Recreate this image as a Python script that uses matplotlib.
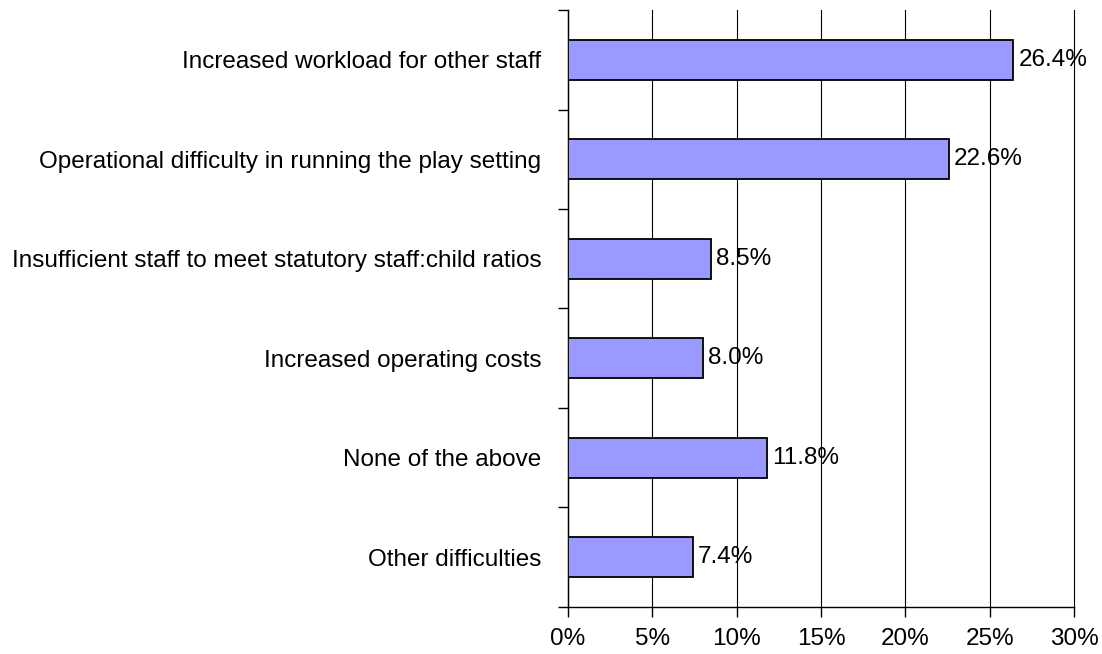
import numpy as np
import matplotlib.pyplot as plt
from matplotlib.ticker import FixedLocator

plt.rcParams['font.family'] = ['Liberation Sans', 'DejaVu Sans']

categories = ['Increased workload for other staff',
              'Operational difficulty in running the play setting',
              'Insufficient staff to meet statutory staff:child ratios',
              'Increased operating costs',
              'None of the above',
              'Other difficulties']
values = [26.4, 22.6, 8.5, 8.0, 11.8, 7.4]
xticks = [0, 5, 10, 15, 20, 25, 30]
xtick_labels = ['0%', '5%', '10%', '15%', '20%', '25%', '30%']

fs = 17.5

fig = plt.figure(figsize=(11.02, 6.54), dpi=100)
ax = fig.add_axes([0.5154, 0.0719, 0.4592, 0.9128])

y = np.arange(len(categories))
ax.barh(y, values, height=0.4, color='#9999ff', edgecolor='black', linewidth=1.3, zorder=3)

for yi, v in zip(y, values):
    ax.text(v + 0.3, yi, f'{v:.1f}%', va='center', ha='left', fontsize=fs, zorder=4)

ax.set_xlim(0, 30)
ax.set_ylim(len(categories) - 0.5, -0.5)

ax.set_xticks(xticks)
ax.set_xticklabels(xtick_labels, fontsize=fs)
ax.set_yticks(y)
ax.set_yticklabels(categories, fontsize=fs)
# category boundaries carry the tick marks, labels sit between them
ax.yaxis.set_minor_locator(FixedLocator(np.arange(-0.5, len(categories), 1.0)))
ax.tick_params(axis='y', which='major', length=0, pad=19)
ax.tick_params(axis='y', which='minor', length=7, width=1, direction='out')
ax.tick_params(axis='x', length=7, width=1, direction='out', pad=8)

ax.grid(axis='x', color='black', linewidth=0.8, zorder=0)
ax.set_axisbelow(True)
for gl in ax.get_xgridlines():
    gl.set_clip_on(False)

for s in ['top', 'right']:
    ax.spines[s].set_visible(False)
for s in ['left', 'bottom']:
    ax.spines[s].set_linewidth(1.0)

fig.savefig('out.png', dpi=100)
